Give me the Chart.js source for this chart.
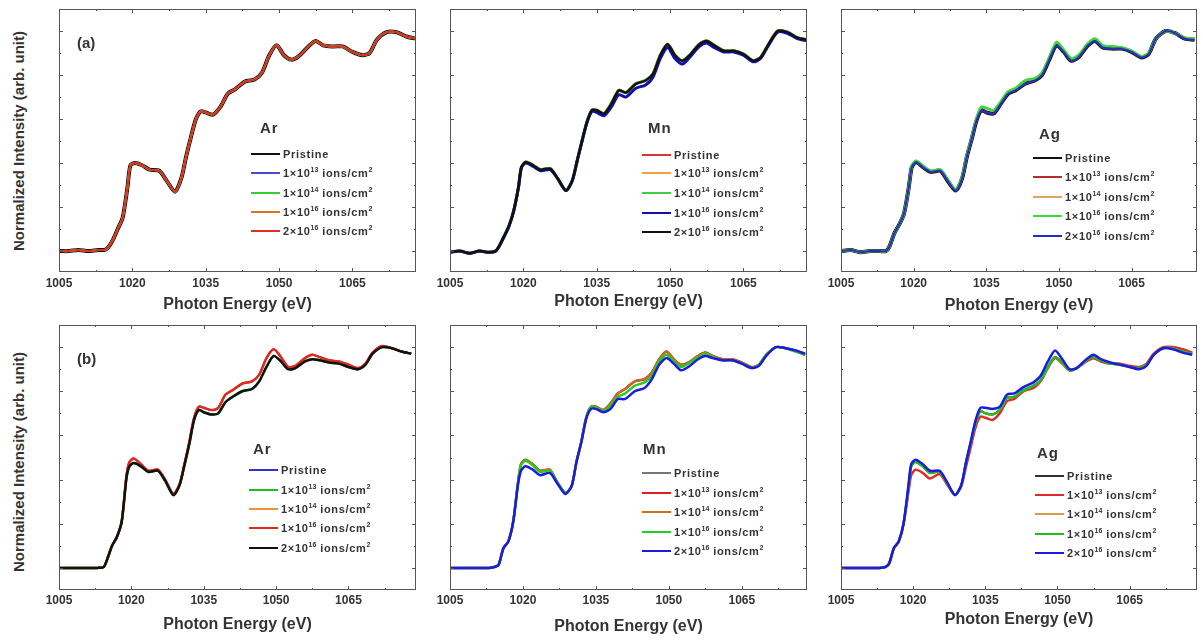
<!DOCTYPE html>
<html>
<head>
<meta charset="utf-8">
<title>Photon energy spectra</title>
<script src="https://cdn.jsdelivr.net/npm/chart.js@4.4.1/dist/chart.umd.min.js"></script>
<style>
  body { margin: 0; width: 1203px; height: 641px; overflow: hidden; background: #fff; position: relative;
         font-family: Arial, "Liberation Sans", sans-serif; color: #333; }
  canvas { position: absolute; }
  .ytitle { position: absolute; transform: translate(-50%, -50%) rotate(-90deg); white-space: nowrap;
            font-weight: bold; font-size: 15px; }
  .tag { position: absolute; font-weight: bold; font-size: 15px; transform: translateY(-50%); }
  .ion { position: absolute; font-weight: bold; font-size: 15px; letter-spacing: 1px; transform: translateY(-50%); }
  .row { position: absolute; height: 14px; display: flex; align-items: center; white-space: nowrap;
         font-weight: bold; font-size: 11px; letter-spacing: 0.7px; }
  .row .sw { display: inline-block; width: 29px; height: 1.5px; margin-right: 3px; }
  .row sup { font-size: 7px; position: relative; top: -1px; vertical-align: top; letter-spacing: 0; }
</style>
</head>
<body>
<div class="ytitle" style="left:18px; top:141px;">Normalized Intensity (arb. unit)</div>
<div class="ytitle" style="left:18px; top:462px;">Normalized Intensity (arb. unit)</div>

<script>
// photon energy grid (eV), shared by every panel
const energy = [1005, 1007, 1009, 1011, 1013, 1014.3, 1015, 1016, 1017, 1018,
  1019, 1019.6, 1020.5, 1022, 1023.5, 1025.5, 1027, 1028.7, 1030, 1031,
  1032, 1033, 1034, 1035, 1036.5, 1038, 1039.5, 1041, 1043, 1045,
  1046.5, 1048, 1049.5, 1051, 1052.5, 1054, 1056, 1057.5, 1059, 1061,
  1063, 1065, 1067, 1068.5, 1070, 1072, 1074, 1076, 1078];

const doseLabels = ["Pristine",
  "1×10<sup>13</sup> ions/cm<sup>2</sup>",
  "1×10<sup>14</sup> ions/cm<sup>2</sup>",
  "1×10<sup>16</sup> ions/cm<sup>2</sup>",
  "2×10<sup>16</sup> ions/cm<sup>2</sup>"];

const xMajor = [1005, 1020, 1035, 1050, 1065];
const xMinor = [1012.5, 1027.5, 1042.5, 1057.5, 1072.5];
const yMajor = [0, 0.2, 0.4, 0.6, 0.8, 1.0];
const yMinor = [0.1, 0.3, 0.5, 0.7, 0.9];

// (a) row
const aAr = [0.00, 0.00, 0.005, 0.00, 0.005, 0.005, 0.015, 0.05, 0.10, 0.15,
  0.29, 0.39, 0.40, 0.39, 0.37, 0.365, 0.32, 0.27, 0.33, 0.43,
  0.52, 0.60, 0.635, 0.63, 0.62, 0.655, 0.715, 0.735, 0.77, 0.78,
  0.81, 0.89, 0.935, 0.89, 0.87, 0.885, 0.93, 0.955, 0.935, 0.93,
  0.93, 0.905, 0.89, 0.90, 0.96, 0.995, 0.995, 0.975, 0.965];

const aMn = [-0.005, 0.00, -0.01, 0.00, -0.005, 0.00, 0.02, 0.064, 0.11, 0.18,
  0.29, 0.38, 0.405, 0.39, 0.37, 0.375, 0.33, 0.275, 0.32, 0.41,
  0.50, 0.585, 0.64, 0.64, 0.625, 0.67, 0.73, 0.72, 0.76, 0.775,
  0.805, 0.89, 0.94, 0.89, 0.865, 0.89, 0.94, 0.955, 0.935, 0.91,
  0.91, 0.895, 0.865, 0.88, 0.935, 1.00, 0.995, 0.97, 0.96];
const aMnLow = [-0.005, 0.00, -0.01, 0.00, -0.005, 0.00, 0.02, 0.064, 0.11, 0.18,
  0.29, 0.38, 0.40, 0.385, 0.365, 0.37, 0.33, 0.275, 0.32, 0.41,
  0.50, 0.585, 0.635, 0.63, 0.615, 0.655, 0.71, 0.70, 0.74, 0.755,
  0.79, 0.875, 0.925, 0.875, 0.85, 0.88, 0.93, 0.945, 0.925, 0.905,
  0.905, 0.89, 0.86, 0.875, 0.93, 0.995, 0.99, 0.965, 0.955];

const aAg = [0.00, 0.005, -0.005, 0.00, 0.00, 0.00, 0.02, 0.08, 0.12, 0.17,
  0.29, 0.38, 0.405, 0.38, 0.36, 0.365, 0.32, 0.275, 0.33, 0.43,
  0.51, 0.595, 0.64, 0.63, 0.625, 0.67, 0.715, 0.73, 0.76, 0.775,
  0.80, 0.87, 0.935, 0.905, 0.865, 0.88, 0.935, 0.955, 0.925, 0.92,
  0.92, 0.905, 0.88, 0.895, 0.965, 1.00, 0.99, 0.965, 0.96];
const aAgHigh = [0.00, 0.005, -0.005, 0.00, 0.00, 0.00, 0.02, 0.08, 0.12, 0.17,
  0.29, 0.385, 0.41, 0.385, 0.365, 0.37, 0.325, 0.28, 0.335, 0.435,
  0.515, 0.605, 0.655, 0.65, 0.64, 0.68, 0.725, 0.74, 0.775, 0.785,
  0.81, 0.88, 0.95, 0.915, 0.875, 0.89, 0.945, 0.965, 0.935, 0.93,
  0.925, 0.91, 0.885, 0.90, 0.965, 1.00, 0.99, 0.97, 0.965];

// (b) row
const bArUpper = [0, 0, 0, 0, 0, 0.005, 0.04, 0.10, 0.14, 0.21,
  0.42, 0.48, 0.495, 0.47, 0.44, 0.445, 0.40, 0.335, 0.38, 0.47,
  0.57, 0.68, 0.73, 0.725, 0.715, 0.725, 0.785, 0.805, 0.835, 0.845,
  0.875, 0.95, 0.99, 0.955, 0.91, 0.915, 0.95, 0.965, 0.955, 0.94,
  0.935, 0.92, 0.905, 0.925, 0.975, 1.005, 0.995, 0.98, 0.97];
const bArLower = [0, 0, 0, 0, 0, 0.005, 0.04, 0.10, 0.14, 0.21,
  0.41, 0.46, 0.475, 0.46, 0.435, 0.44, 0.395, 0.33, 0.375, 0.465,
  0.56, 0.67, 0.715, 0.705, 0.695, 0.70, 0.75, 0.775, 0.80, 0.81,
  0.845, 0.91, 0.96, 0.935, 0.90, 0.905, 0.935, 0.945, 0.94, 0.93,
  0.925, 0.91, 0.90, 0.92, 0.97, 1.00, 0.995, 0.98, 0.97];

const bMnRed = [0, 0, 0, 0, 0, 0.005, 0.014, 0.09, 0.12, 0.21,
  0.39, 0.47, 0.49, 0.47, 0.44, 0.445, 0.39, 0.34, 0.37, 0.48,
  0.57, 0.68, 0.73, 0.73, 0.715, 0.745, 0.79, 0.81, 0.845, 0.855,
  0.885, 0.945, 0.98, 0.945, 0.92, 0.93, 0.96, 0.975, 0.96, 0.945,
  0.945, 0.93, 0.91, 0.92, 0.965, 1.00, 0.995, 0.985, 0.965];
const bMnGreen = [0, 0, 0, 0, 0, 0.005, 0.014, 0.09, 0.12, 0.21,
  0.39, 0.465, 0.485, 0.465, 0.435, 0.44, 0.39, 0.34, 0.37, 0.48,
  0.57, 0.68, 0.73, 0.725, 0.71, 0.735, 0.775, 0.79, 0.825, 0.84,
  0.87, 0.935, 0.965, 0.935, 0.91, 0.925, 0.955, 0.97, 0.955, 0.94,
  0.94, 0.925, 0.905, 0.92, 0.965, 1.00, 0.995, 0.98, 0.965];
const bMnBlue = [0, 0, 0, 0, 0, 0.005, 0.014, 0.09, 0.12, 0.21,
  0.38, 0.44, 0.46, 0.445, 0.42, 0.43, 0.385, 0.335, 0.37, 0.48,
  0.57, 0.675, 0.72, 0.72, 0.705, 0.72, 0.765, 0.765, 0.80, 0.815,
  0.855, 0.92, 0.95, 0.925, 0.895, 0.91, 0.945, 0.96, 0.95, 0.94,
  0.94, 0.925, 0.905, 0.915, 0.96, 1.00, 0.995, 0.985, 0.97];

const bAgGreen = [0, 0, 0, 0, 0, 0.005, 0.02, 0.09, 0.12, 0.20,
  0.36, 0.46, 0.48, 0.46, 0.43, 0.435, 0.385, 0.33, 0.375, 0.48,
  0.57, 0.66, 0.71, 0.70, 0.695, 0.715, 0.77, 0.775, 0.805, 0.825,
  0.85, 0.91, 0.955, 0.93, 0.895, 0.905, 0.94, 0.955, 0.94, 0.925,
  0.92, 0.91, 0.905, 0.92, 0.965, 0.995, 0.995, 0.98, 0.97];
const bAgBlue = [0, 0, 0, 0, 0, 0.005, 0.02, 0.09, 0.12, 0.20,
  0.37, 0.47, 0.49, 0.47, 0.44, 0.44, 0.39, 0.33, 0.375, 0.48,
  0.575, 0.67, 0.725, 0.725, 0.72, 0.73, 0.785, 0.79, 0.82, 0.84,
  0.87, 0.935, 0.985, 0.945, 0.90, 0.905, 0.945, 0.965, 0.945, 0.93,
  0.92, 0.91, 0.90, 0.915, 0.965, 0.995, 0.99, 0.975, 0.965];
const bAgRed = [0, 0, 0, 0, 0, 0.005, 0.02, 0.09, 0.12, 0.20,
  0.34, 0.42, 0.445, 0.43, 0.405, 0.425, 0.38, 0.33, 0.37, 0.46,
  0.55, 0.64, 0.685, 0.68, 0.67, 0.70, 0.755, 0.765, 0.80, 0.815,
  0.845, 0.905, 0.95, 0.925, 0.895, 0.905, 0.935, 0.95, 0.935, 0.925,
  0.925, 0.915, 0.91, 0.925, 0.97, 1.00, 1.00, 0.99, 0.975];

// colours per panel, in legend order
const aArColors = ["#111111", "#4a4ad0", "#33cc33", "#d07a20", "#e03020"];
const aMnColors = ["#dd3333", "#f0a040", "#44cc44", "#1010b0", "#111111"];
const aAgColors = ["#111111", "#b03030", "#d8a860", "#33dd33", "#2030c0"];
const bArColors = ["#3333cc", "#22bb22", "#f09030", "#e02a20", "#111111"];
const bMnColors = ["#777777", "#e02020", "#c87020", "#22cc22", "#1a1ae0"];
const bAgColors = ["#333333", "#e02a2a", "#d89a50", "#22bb22", "#1a1ae0"];

const panels = [
  { ion: "Ar", tag: "(a)", box: [59, 9, 416, 272], xMax: 1078, yMin: -0.095, axisH: 42, pad: 4,
    colors: aArColors, widths: [4, 2, 2, 2, 2], series: [aAr, aAr, aAr, aAr, aAr],
    legend: { x: 251, rows: [154, 173, 193, 212, 231], lx: 260, ly: 127 } },
  { ion: "Mn", box: [450, 9, 807, 272], xMax: 1078, yMin: -0.095, axisH: 39, pad: 4,
    colors: aMnColors, widths: [3, 3, 3, 3, 2.5], series: [aMn, aMn, aMn, aMnLow, aMn],
    legend: { x: 642, rows: [155, 173, 193, 213, 232], lx: 648, ly: 127 } },
  { ion: "Ag", box: [841, 9, 1197, 272], xMax: 1078.5, yMin: -0.095, axisH: 43, pad: 4,
    colors: aAgColors, widths: [4, 2, 2.5, 2.5, 2], series: [aAg, aAg, aAgHigh, aAgHigh, aAg],
    legend: { x: 1033, rows: [158, 177, 197, 216, 236], lx: 1039, ly: 133 } },
  { ion: "Ar", tag: "(b)", box: [59, 325, 416, 590], xMax: 1079, yMin: -0.1, axisH: 44, pad: 3,
    colors: bArColors, widths: [2, 2.5, 2, 2.5, 2.5], series: [bArUpper, bArLower, bArUpper, bArUpper, bArLower],
    legend: { x: 249, rows: [470, 490, 509, 528, 548], lx: 253, ly: 448 } },
  { ion: "Mn", box: [450, 325, 807, 590], xMax: 1078.4, yMin: -0.1, axisH: 46, pad: 3,
    colors: bMnColors, widths: [2, 2.5, 2, 2.5, 2.5], series: [bMnRed, bMnRed, bMnRed, bMnGreen, bMnBlue],
    legend: { x: 642, rows: [473, 493, 512, 532, 551], lx: 643, ly: 448 } },
  { ion: "Ag", box: [841, 325, 1197, 590], xMax: 1079, yMin: -0.1, axisH: 39, pad: 3,
    colors: bAgColors, widths: [2, 2.5, 2, 2.5, 2.5], series: [bAgGreen, bAgRed, bAgGreen, bAgGreen, bAgBlue],
    legend: { x: 1035, rows: [476, 495, 514, 534, 553], lx: 1037, ly: 452 } }
];

// box frame plus inward tick marks on all four sides
const frameTicks = {
  id: "frameTicks",
  afterDraw(chart) {
    const { ctx, chartArea: a, scales: { x, y } } = chart;
    ctx.save();
    ctx.strokeStyle = "#555";
    ctx.lineWidth = 1;
    ctx.strokeRect(a.left + 0.5, a.top + 0.5, a.width - 1, a.height - 1);
    ctx.beginPath();
    const xt = (v, len) => {
      const px = Math.round(x.getPixelForValue(v)) + 0.5;
      ctx.moveTo(px, a.bottom); ctx.lineTo(px, a.bottom - len);
      ctx.moveTo(px, a.top); ctx.lineTo(px, a.top + len);
    };
    const yt = (v, len) => {
      const py = Math.round(y.getPixelForValue(v)) + 0.5;
      ctx.moveTo(a.left, py); ctx.lineTo(a.left + len, py);
      ctx.moveTo(a.right, py); ctx.lineTo(a.right - len, py);
    };
    xMajor.forEach(v => xt(v, 4));
    xMinor.forEach(v => xt(v, 2));
    yMajor.forEach(v => yt(v, 4));
    yMinor.forEach(v => yt(v, 2));
    ctx.stroke();
    ctx.restore();
  }
};

panels.forEach(p => {
  const [L, T, R, B] = p.box;
  const cv = document.createElement("canvas");
  cv.width = R - L + 40;
  cv.height = B - T + 2 + p.axisH;
  cv.style.left = (L - 20) + "px";
  cv.style.top = (T - 2) + "px";
  document.body.appendChild(cv);

  const datasets = p.series.map((vals, i) => ({
    label: doseLabels[i].replace(/<[^>]+>/g, ""),
    data: energy.map((e, k) => ({ x: e, y: vals[k] })),
    borderColor: p.colors[i],
    borderWidth: p.widths[i],
    pointRadius: 0,
    tension: 0.25,
    order: 4 - i
  }));

  new Chart(cv, {
    type: "line",
    data: { datasets },
    options: {
      responsive: false,
      animation: false,
      layout: { padding: { left: 20, right: 20, top: 2, bottom: 0 } },
      plugins: { legend: { display: false }, tooltip: { enabled: false } },
      scales: {
        x: {
          type: "linear",
          min: 1005,
          max: p.xMax,
          afterBuildTicks: s => { s.ticks = xMajor.map(v => ({ value: v })); },
          afterFit: s => { s.height = p.axisH; },
          grid: { display: false, drawTicks: false },
          border: { display: false },
          ticks: {
            padding: p.pad,
            color: "#333",
            font: { family: "Arial, 'Liberation Sans', sans-serif", size: 12, weight: "bold" },
            callback: v => String(v)
          },
          title: {
            display: true,
            text: "Photon Energy (eV)",
            color: "#333",
            padding: 0,
            font: { family: "Arial, 'Liberation Sans', sans-serif", size: 16, weight: "bold" }
          }
        },
        y: { display: false, min: p.yMin, max: 1.1 }
      }
    },
    plugins: [frameTicks]
  });

  // panel tag, ion label and legend
  if (p.tag) {
    const t = document.createElement("div");
    t.className = "tag";
    t.style.left = (L + 18) + "px";
    t.style.top = (T + 33) + "px";
    t.textContent = p.tag;
    document.body.appendChild(t);
  }
  const ion = document.createElement("div");
  ion.className = "ion";
  ion.style.left = p.legend.lx + "px";
  ion.style.top = p.legend.ly + "px";
  ion.textContent = p.ion;
  document.body.appendChild(ion);

  p.legend.rows.forEach((yc, i) => {
    const row = document.createElement("div");
    row.className = "row";
    row.style.left = p.legend.x + "px";
    row.style.top = (yc - 7) + "px";
    row.innerHTML = `<span class="sw" style="background:${p.colors[i]}"></span><span>${doseLabels[i]}</span>`;
    document.body.appendChild(row);
  });
});
</script>
</body>
</html>
